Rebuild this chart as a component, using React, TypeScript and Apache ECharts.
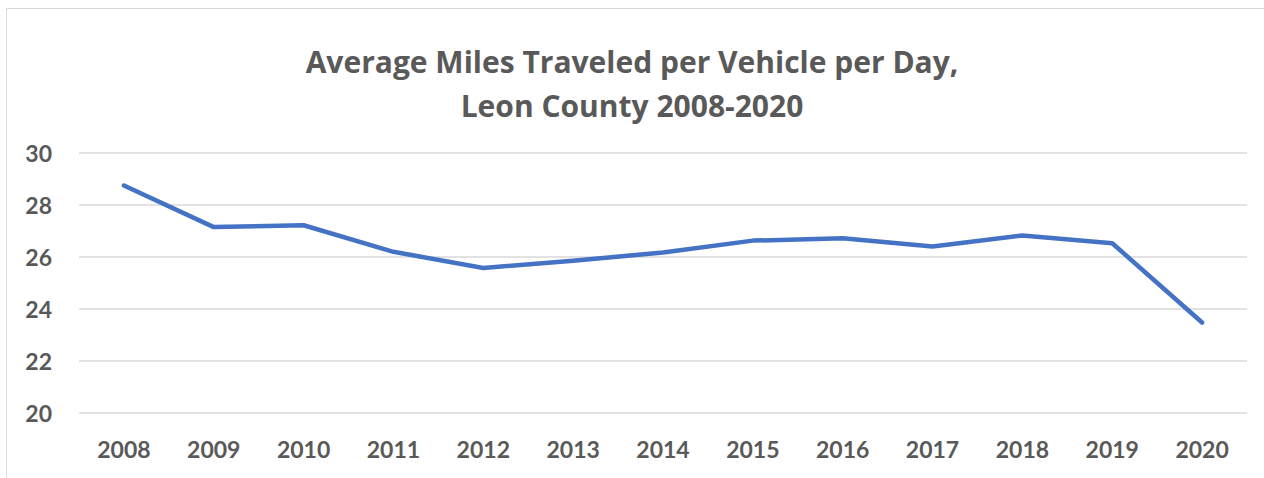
import React, { useEffect, useRef } from "react";
import * as echarts from "echarts";

const years = ["2008", "2009", "2010", "2011", "2012", "2013", "2014", "2015", "2016", "2017", "2018", "2019", "2020"];
const milesPerDay = [28.75, 27.15, 27.22, 26.2, 25.58, 25.86, 26.17, 26.63, 26.72, 26.4, 26.83, 26.53, 23.48];
const titleLines = ["Average Miles Traveled per Vehicle per Day,", "Leon County 2008-2020"];

export default function App() {
  const ref = useRef<HTMLDivElement>(null);
  useEffect(() => {
    if (!ref.current) return;
    const chart = echarts.init(ref.current, undefined, { renderer: "svg" });
    const labelStyle = { fontFamily: "Lato", fontWeight: "bold" as const, color: "#595959", fontSize: 23 };
    chart.setOption({
      animation: false,
      backgroundColor: "#ffffff",
      title: {
        text: titleLines.join("\n"),
        left: "center",
        top: 34,
        textStyle: { fontFamily: "Open Sans", fontWeight: "bold", color: "#595959", fontSize: 30, lineHeight: 44 },
      },
      graphic: [
        {
          type: "rect",
          shape: { x: 6.5, y: 8.5, width: 1400, height: 600 },
          style: { fill: "none", stroke: "#d9d9d9", lineWidth: 1 },
          silent: true,
        },
      ],
      grid: { left: 79, right: 17, top: 153, bottom: 65, containLabel: false },
      xAxis: {
        type: "category",
        data: years,
        boundaryGap: true,
        axisLine: { show: false },
        axisTick: { show: false },
        axisLabel: { ...labelStyle, margin: 24 },
      },
      yAxis: {
        type: "value",
        min: 20,
        max: 30,
        interval: 2,
        axisLine: { show: false },
        axisTick: { show: false },
        axisLabel: { ...labelStyle, margin: 27 },
        splitLine: { lineStyle: { color: "#d9d9d9", width: 1.5 } },
      },
      series: [
        {
          type: "line",
          data: milesPerDay,
          symbol: "none",
          lineStyle: { color: "#4472C4", width: 4.5, cap: "round", join: "round" },
        },
      ],
    });
    return () => chart.dispose();
  }, []);
  return (
    <div
      ref={ref}
      style={{ position: "fixed", left: 0, top: 0, width: 1264, height: 478 }}
    />
  );
}
